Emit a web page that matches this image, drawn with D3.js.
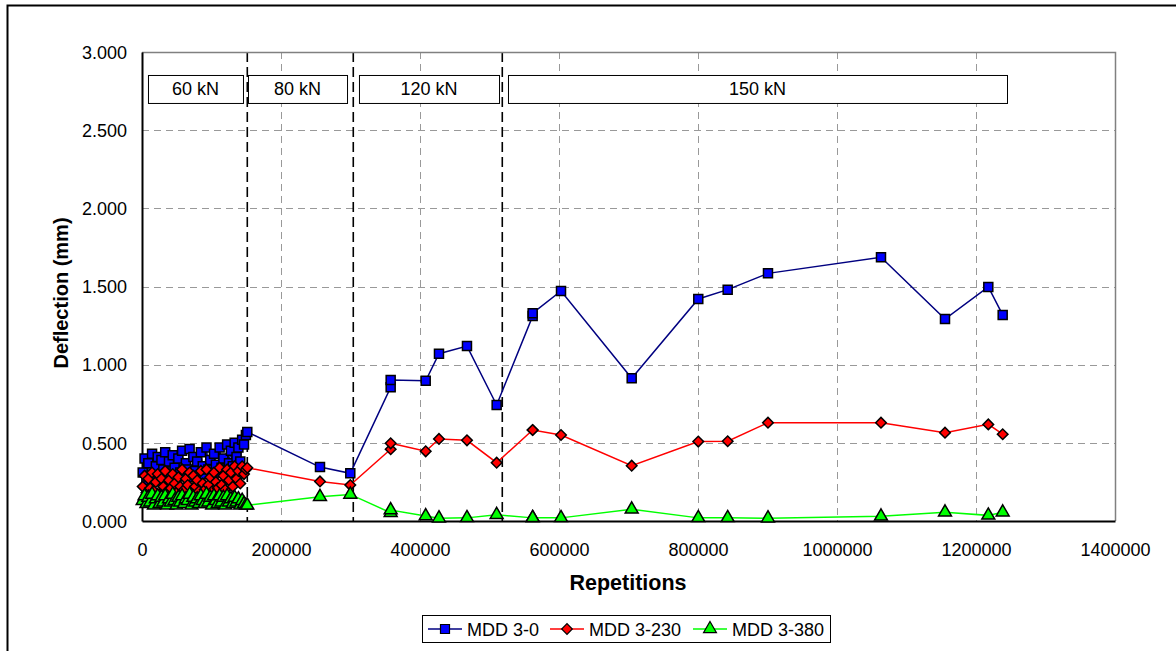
<!DOCTYPE html>
<html><head><meta charset="utf-8">
<script src="https://cdn.jsdelivr.net/npm/d3@7"></script>
<style>
html,body{margin:0;padding:0;background:#fff;}
svg{display:block;font-family:Arial,"Liberation Sans",sans-serif;}
</style></head>
<body><svg id="c" width="1176" height="651"></svg>
<script>
// ---------- data ----------
const repsCluster = [1000,3700,6400,9100,11800,14500,17200,19900,22600,25300,28000,30700,33400,36100,38800,41500,44200,46900,49600,52300,55000,57700,60400,63100,65800,68500,71200,73900,76600,79300,82000,84700,87400,90100,92800,95500,98200,100900,103600,106300,109000,111700,114400,117100,119800,122500,125200,127900,130600,133300,136000,138700,141400,144100,146800,149500,151500];
const repsLater = [256100,299700,357800,357800,408200,427300,467600,510300,562100,562100,602900,704600,800400,842700,900700,1063300,1155400,1217700,1238400];

const mdd30Cluster = [0.31,0.40,0.26,0.37,0.29,0.43,0.27,0.35,0.41,0.28,0.39,0.33,0.44,0.27,0.38,0.30,0.42,0.34,0.28,0.40,0.31,0.45,0.29,0.37,0.33,0.46,0.28,0.41,0.32,0.38,0.27,0.44,0.35,0.30,0.47,0.33,0.39,0.29,0.43,0.36,0.31,0.47,0.34,0.40,0.33,0.49,0.37,0.45,0.35,0.50,0.41,0.47,0.38,0.52,0.49,0.55,0.57];
const mdd30Later = [0.345,0.305,0.855,0.902,0.897,1.070,1.119,0.742,1.311,1.329,1.471,0.913,1.420,1.480,1.584,1.687,1.292,1.497,1.318];

const mdd3230Cluster = [0.22,0.29,0.18,0.27,0.21,0.31,0.19,0.25,0.30,0.17,0.27,0.22,0.32,0.19,0.26,0.21,0.30,0.24,0.18,0.28,0.22,0.33,0.20,0.27,0.23,0.31,0.18,0.29,0.22,0.26,0.19,0.32,0.24,0.20,0.33,0.23,0.28,0.19,0.31,0.25,0.21,0.34,0.23,0.29,0.20,0.33,0.26,0.31,0.22,0.35,0.27,0.32,0.24,0.35,0.30,0.33,0.34];
const mdd3230Later = [0.253,0.230,0.459,0.497,0.446,0.525,0.516,0.373,0.582,0.582,0.550,0.354,0.508,0.510,0.629,0.629,0.565,0.618,0.555];

const mdd3380Cluster = [0.13,0.16,0.11,0.15,0.12,0.17,0.10,0.14,0.16,0.11,0.15,0.12,0.16,0.10,0.14,0.12,0.17,0.13,0.10,0.15,0.12,0.16,0.11,0.14,0.13,0.17,0.10,0.15,0.12,0.14,0.11,0.16,0.13,0.11,0.17,0.12,0.15,0.10,0.16,0.13,0.11,0.16,0.12,0.15,0.10,0.16,0.12,0.14,0.11,0.15,0.12,0.14,0.10,0.13,0.11,0.10,0.10];
const mdd3380Later = [0.155,0.170,0.053,0.070,0.032,0.018,0.020,0.040,0.020,0.020,0.020,0.075,0.020,0.020,0.018,0.030,0.056,0.036,0.056];

const seriesNames = ["MDD 3-0","MDD 3-230","MDD 3-380"];
const xTicks = [0,200000,400000,600000,800000,1000000,1200000,1400000];
const yTicks = [0,0.5,1.0,1.5,2.0,2.5,3.0];
const phaseBounds = [151500,304000,518400];
const loadLabels = ["60 kN","80 kN","120 kN","150 kN"];
const loadStart = [8600,152500,312200,526600];
const loadEnd = [145300,295000,513700,1244600];
const loadBoxTop = 2.853, loadBoxBottom = 2.674;

// ---------- build ----------
const svg = d3.select("#c");
const L=142, R=1115, T=52, B=521;
const x = d3.scaleLinear().domain([0,1400000]).range([L,R]);
const y = d3.scaleLinear().domain([0,3]).range([B,T]);

// outer frame
svg.append("path").attr("d","M7.5,660 V5.5 H1190").attr("fill","none").attr("stroke","#000").attr("stroke-width",2);

// gridlines
const g = svg.append("g");
g.selectAll(".hg").data(yTicks.filter(d=>d>0 && d<3)).join("line")
  .attr("x1",L).attr("x2",R).attr("y1",d=>Math.round(y(d))+0.5).attr("y2",d=>Math.round(y(d))+0.5)
  .attr("stroke","#999").attr("stroke-width",1).attr("stroke-dasharray","7,5");
g.selectAll(".vg").data(xTicks.filter(d=>d>0 && d<1400000)).join("line")
  .attr("x1",d=>Math.round(x(d))+0.5).attr("x2",d=>Math.round(x(d))+0.5).attr("y1",T).attr("y2",B)
  .attr("stroke","#999").attr("stroke-width",1).attr("stroke-dasharray","7,5");

// plot border (top/right)
svg.append("path").attr("d",`M${L},${T+0.5} H${R+0.5} V${B}`).attr("fill","none").attr("stroke","#808080").attr("stroke-width",1.5);

// phase separators
g.selectAll(".ph").data(phaseBounds).join("line")
  .attr("x1",d=>x(d)).attr("x2",d=>x(d)).attr("y1",T).attr("y2",B)
  .attr("stroke","#000").attr("stroke-width",1.6).attr("stroke-dasharray","10,5");

// load boxes
const lb = svg.append("g");
loadLabels.forEach((t,i)=>{
  lb.append("rect").attr("x",x(loadStart[i])+0.5).attr("y",y(loadBoxTop)+0.5)
    .attr("width",x(loadEnd[i])-x(loadStart[i])).attr("height",y(loadBoxBottom)-y(loadBoxTop))
    .attr("fill","#fff").attr("stroke","#000").attr("stroke-width",1);
  lb.append("text").attr("x",(x(loadStart[i])+x(loadEnd[i]))/2).attr("y",(y(loadBoxTop)+y(loadBoxBottom))/2+6.5)
    .attr("text-anchor","middle").attr("font-size",18).text(t);
});

// axes
const xAxis = d3.axisBottom(x).tickValues(xTicks).tickFormat(d=>String(d)).tickSize(0).tickPadding(22);
const yAxis = d3.axisLeft(y).tickValues(yTicks).tickFormat(d3.format(".3f")).tickSize(0).tickPadding(15);
const gx = svg.append("g").attr("transform",`translate(0,${B})`).call(xAxis);
const gy = svg.append("g").attr("transform",`translate(${L},0)`).call(yAxis);
[gx,gy].forEach(a=>{a.select(".domain").attr("stroke","#000").attr("stroke-width",2);
  a.selectAll("text").attr("font-size",18).attr("fill","#000").attr("font-family","Arial, 'Liberation Sans', sans-serif");});
gy.selectAll("text").attr("dy","0.35em");

svg.append("text").attr("x",628).attr("y",590).attr("text-anchor","middle")
  .attr("font-size",21.5).attr("font-weight","bold").text("Repetitions");
svg.append("text").attr("transform",`translate(68,293) rotate(-90)`).attr("text-anchor","middle")
  .attr("font-size",20).attr("font-weight","bold").text("Deflection (mm)");

// series
const mk = (reps,a)=>reps.map((r,i)=>({r:r,v:a[i]}));
function join(cReps,c,lReps,l){return mk(cReps,c).concat(mk(lReps,l));}
const series = [
  {name:seriesNames[0], data:join(repsCluster,mdd30Cluster,repsLater,mdd30Later), line:"#000080", fill:"#0000FF", sym:"square"},
  {name:seriesNames[1], data:join(repsCluster,mdd3230Cluster,repsLater,mdd3230Later), line:"#FF0000", fill:"#FF0000", sym:"diamond"},
  {name:seriesNames[2], data:join(repsCluster,mdd3380Cluster,repsLater,mdd3380Later), line:"#00FF00", fill:"#00FF00", sym:"triangle"}
];
const symPath = {
  square: d3.symbol().type(d3.symbolSquare).size(81)(),
  diamond: d3.symbol().type(d3.symbolSquare).size(56)(),
  triangle: d3.symbol().type(d3.symbolTriangle).size(72)()
};
const symRot = {square:0, diamond:45, triangle:0};
const lineGen = d3.line().x(d=>x(d.r)).y(d=>y(d.v));
series.forEach(s=>{
  svg.append("path").datum(s.data).attr("d",lineGen).attr("fill","none").attr("stroke",s.line).attr("stroke-width",1.5);
});
series.forEach(s=>{
  svg.append("g").selectAll("path").data(s.data).join("path")
    .attr("d",symPath[s.sym])
    .attr("transform",d=>`translate(${x(d.r)},${y(d.v)}) rotate(${symRot[s.sym]})`)
    .attr("fill",s.fill).attr("stroke","#000").attr("stroke-width",1.5);
});

// legend
const lg = svg.append("g");
lg.append("rect").attr("x",422.5).attr("y",615.5).attr("width",408).attr("height",27).attr("fill","#fff").attr("stroke","#000").attr("stroke-width",1);
const legX = [428,550,693];
series.forEach((s,i)=>{
  const x0 = legX[i];
  lg.append("line").attr("x1",x0).attr("x2",x0+34).attr("y1",629).attr("y2",629).attr("stroke",s.line).attr("stroke-width",1.5);
  lg.append("path").attr("d",symPath[s.sym]).attr("transform",`translate(${x0+17},629) rotate(${symRot[s.sym]})`)
    .attr("fill",s.fill).attr("stroke","#000").attr("stroke-width",1.2);
  lg.append("text").attr("x",x0+39).attr("y",635.5).attr("font-size",18).text(s.name);
});
</script></body></html>
